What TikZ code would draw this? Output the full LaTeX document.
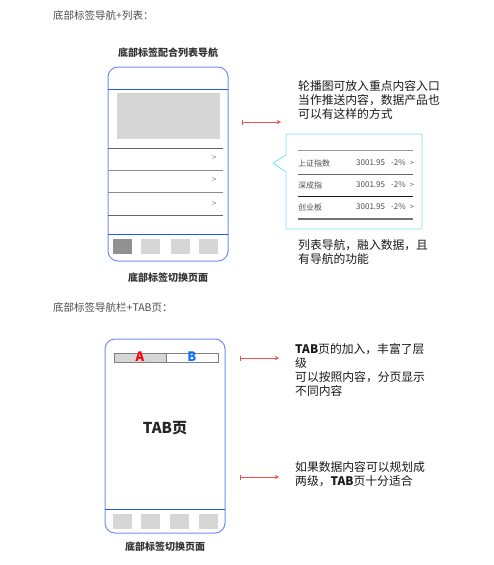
\documentclass[tikz,border=0pt]{standalone}
\usepackage{fontspec}
\setmainfont{Noto Sans CJK SC}
\usetikzlibrary{arrows.meta}

\definecolor{azulmovil}{RGB}{110,140,255}
\definecolor{azullinea}{RGB}{30,90,240}
\definecolor{grisclaro}{RGB}{214,214,214}
\definecolor{grisoscuro}{RGB}{145,145,145}
\definecolor{cian}{RGB}{120,225,250}
\definecolor{rojoflecha}{RGB}{240,80,80}
\definecolor{azultab}{RGB}{20,110,255}

\tikzset{
  titulo/.style={anchor=west, inner sep=0pt, text=black!70, font=\fontsize{10.5}{12}\selectfont},
  nota/.style={anchor=north west, align=left, inner sep=0pt, text=black!90, font=\fontsize{11.8}{14}\selectfont},
  pie/.style={inner sep=0pt, text=black!80, font=\bfseries\fontsize{10}{12}\selectfont},
  fila/.style={anchor=west, inner sep=0pt, text=black!70, font=\fontsize{8}{10}\selectfont},
  flecha/.style={rojoflecha, {Bar[width=5pt]}-{Stealth[length=4pt,width=4pt]}},
  movil/.style={azulmovil, line width=1pt, rounded corners=10pt}
}

\begin{document}
\begin{tikzpicture}[x=1pt,y=-1pt]
\useasboundingbox (0,0) rectangle (493,565);

% Primera parte: navegacion inferior con lista
\node[titulo] (titulo1) at (53,15) {底部标签导航+列表：};
\node[pie] (cabecera1) at (168,53) {底部标签配合列表导航};

% El movil con esquinas redondeadas
\draw[movil] (108,67) rectangle (228,261);
\draw[azullinea, line width=0.8pt] (108,89) -- (228,89);
\draw[azullinea, line width=0.8pt] (108,234) -- (228,234);

% Carrusel gris
\fill[grisclaro] (117,93) rectangle (220,139);

% Lineas de la lista
\draw[black!60, line width=0.8pt] (108,148) -- (223,148);
\foreach \y in {170,192} {
  \draw[black!45] (108,\y) -- (223,\y);
}
\draw[black!60, line width=0.7pt] (108,215) -- (223,215);
\foreach \y/\n in {158/1,180/2,204/3} {
  \node[fila, text=black!50] (flechita\n) at (212,\y) {>};
}

% Pestanas de abajo
\fill[grisoscuro] (113,239) rectangle (132,254);
\foreach \x in {141,171,199} {
  \fill[grisclaro] (\x,239) rectangle ++(19,15);
}
\node[pie] (pie1) at (168,278) {底部标签切换页面};

% Flecha y nota del carrusel
\coordinate (f1a) at (242,122);
\coordinate (f1b) at (281,122);
\draw[flecha] (f1a) -- (f1b);
\node[nota] (nota1) at (298,80) {轮播图可放入重点内容入口\\当作推送内容，数据产品也\\可以有这样的方式};

% Globo con los datos
\draw[cian, line width=0.8pt] (286,134) -- (422,134) -- (422,229) -- (286,229)
  -- (286,172) -- (273,163) -- (286,155) -- cycle;
\draw[black!40] (298,150) -- (413,150);
\draw[black!60, line width=0.9pt] (298,174) -- (413,174);
\draw[black!90, line width=0.7pt] (298,196) -- (413,196);
\draw[black!55, line width=1.2pt] (298,219) -- (413,219);
\node[fila] (indice1) at (298,163) {上证指数};
\node[fila] (indice2) at (298,185) {深成指};
\node[fila] (indice3) at (298,207) {创业板};
\foreach \y/\n in {163/1,185/2,207/3} {
  \node[fila] (valor\n) at (356,\y) {3001.95};
  \node[fila] (cambio\n) at (391,\y) {-2\%};
  \node[fila, font=\fontsize{7}{8}\selectfont] (ir\n) at (410,\y) {>};
}
\node[nota] (nota2) at (298,239) {列表导航，融入数据，且\\有导航的功能};

% Segunda parte: navegacion inferior con TAB
\node[titulo] (titulo2) at (53,307) {底部标签导航栏+TAB页：};

\draw[movil] (105,339) rectangle (225,533);
\draw[azullinea, line width=0.8pt] (105,509) -- (225,509);

% Barra de pestanas A y B
\fill[grisclaro] (114,353) rectangle (166,362);
\draw[black!50, line width=0.6pt] (114,353) rectangle (218,362);
\draw[black!50, line width=0.6pt] (166,353) -- (166,362);
\node[inner sep=0pt, text=red, font=\bfseries\fontsize{13}{13}\selectfont] (tabA) at (140,357) {A};
\node[inner sep=0pt, text=azultab, font=\bfseries\fontsize{13}{13}\selectfont] (tabB) at (192,357) {B};

\node[inner sep=0pt, font=\bfseries\fontsize{15}{15}\selectfont, text=black!85] (pagina) at (165,428) {TAB页};

\foreach \x in {113,141,170,199} {
  \fill[grisclaro] (\x,514) rectangle ++(19,15);
}
\node[pie] (pie2) at (165,547) {底部标签切换页面};

% Flechas y notas de la segunda parte
\coordinate (f2a) at (240,358);
\coordinate (f2b) at (279,358);
\draw[flecha] (f2a) -- (f2b);
\node[nota] (nota3) at (295,343) {\textbf{TAB}页的加入，丰富了层\\级\\可以按照内容，分页显示\\不同内容};

\coordinate (f3a) at (240,477);
\coordinate (f3b) at (279,477);
\draw[flecha] (f3a) -- (f3b);
\node[nota] (nota4) at (295,461) {如果数据内容可以规划成\\两级，\textbf{TAB}页十分适合};
\end{tikzpicture}
\end{document}
